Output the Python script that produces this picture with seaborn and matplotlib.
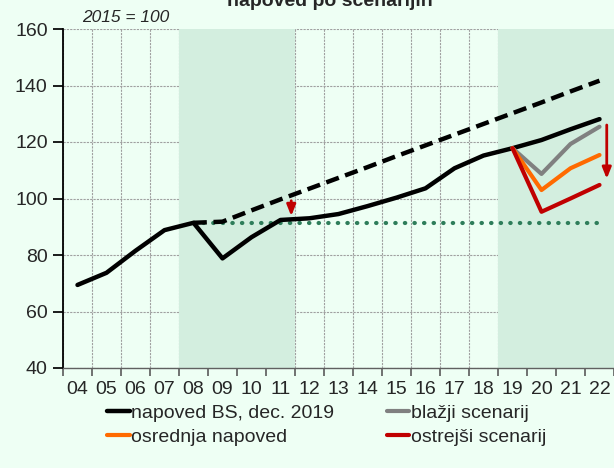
import matplotlib
matplotlib.use('Agg')
import matplotlib.pyplot as plt
import numpy as np
import pandas as pd
import seaborn as sns

# data
years = ['04', '05', '06', '07', '08', '09', '10', '11', '12', '13',
         '14', '15', '16', '17', '18', '19', '20', '21', '22']
napoved_bs = [69.4, 73.7, 81.5, 88.8, 91.4, 78.8, 86.3, 92.4, 93.0, 94.5,
              97.3, 100.3, 103.6, 110.7, 115.2, 117.8, 120.7, 124.5, 128.1]
trend_years = years[4:]
trend = [91.4, 91.8, 95.8, 99.7, 103.5, 107.3, 111.1, 115.0, 118.8, 122.6,
         126.4, 130.2, 134.0, 137.9, 141.7]
level_2008 = 91.4
scen_years = years[15:]
blazji = [117.8, 108.7, 119.3, 125.4]
osrednja = [117.8, 103.0, 110.7, 115.4]
ostrejsi = [117.8, 95.3, 100.0, 104.8]

bg = '#eefff4'
shade = '#d3eedf'

sns.set_theme(style='white')
plt.rcParams['font.family'] = ['Liberation Sans', 'DejaVu Sans']

pos = {y: i for i, y in enumerate(years)}
df_bs = pd.DataFrame({'x': [pos[y] for y in years], 'v': napoved_bs})
df_tr = pd.DataFrame({'x': [pos[y] for y in trend_years], 'v': trend})
df_lv = pd.DataFrame({'x': [pos[y] for y in trend_years], 'v': [level_2008] * len(trend_years)})
df_sc = pd.DataFrame({
    'x': [pos[y] for y in scen_years] * 3,
    'v': blazji + osrednja + ostrejsi,
    'scen': ['blažji scenarij'] * 4 + ['osrednja napoved'] * 4 + ['ostrejši scenarij'] * 4,
})

fig = plt.figure(figsize=(6.14, 4.68), dpi=100, facecolor=bg)
ax = fig.add_axes([63 / 614, 1 - 368 / 468, 1 - 63 / 614, (368 - 29) / 468])
ax.set_facecolor(bg)

# shaded periods (08-11 and 19-22)
ax.axvspan(3.5, 7.5, color=shade, lw=0, zorder=1)
ax.axvspan(14.5, 18.5, color=shade, lw=0, zorder=1)

sns.lineplot(data=df_lv, x='x', y='v', ax=ax, color='#2e7d5a', lw=3,
             linestyle=(0, (0.1, 2.2)), dash_capstyle='round', zorder=3)
ax.plot(df_tr['x'], df_tr['v'], color='black', lw=3.2, dashes=(3, 1.5), zorder=4)
sns.lineplot(data=df_bs, x='x', y='v', ax=ax, color='black', lw=3.2, zorder=5,
             label='napoved BS, dec. 2019')
sns.lineplot(data=df_sc, x='x', y='v', hue='scen', ax=ax, lw=3, zorder=6,
             palette=['#808080', '#ff6a00', '#c00000'])

# arrows
arr = dict(arrowstyle='-|>,head_width=0.22,head_length=0.55', color='#c00000', lw=2)
ax.annotate('', xy=(7.37, 92.8), xytext=(7.37, 100.2), arrowprops=arr, zorder=7)
ax.annotate('', xy=(18.25, 106), xytext=(18.25, 127), arrowprops=arr, zorder=7)

ax.set_xlim(-0.5, 18.5)
ax.set_ylim(40, 160)
ax.set_yticks(np.arange(40, 161, 20))
ax.set_xticks(np.arange(-0.5, 19), labels=[''] * 20)
ax.set_xticks(np.arange(19), labels=years, minor=True)
ax.tick_params(axis='x', which='major', length=6, direction='out', color='#606060',
               bottom=True)
ax.tick_params(axis='x', which='minor', length=0, pad=9, labelsize=14, bottom=True)
ax.tick_params(axis='y', length=7, direction='out', color='black', pad=4,
               labelsize=14, left=True)
ax.grid(True, which='major', color='#a0a0a0', lw=0.8, linestyle=(0, (2, 1)))
ax.set_axisbelow(True)
ax.set_xlabel('')
ax.set_ylabel('')
for s in ['top', 'right']:
    ax.spines[s].set_visible(False)
ax.spines['left'].set_color('black')
ax.spines['left'].set_linewidth(1.3)
ax.spines['bottom'].set_color('#606060')
ax.spines['bottom'].set_linewidth(1.0)

handles, labels = ax.get_legend_handles_labels()
order = ['napoved BS, dec. 2019', 'osrednja napoved', 'blažji scenarij', 'ostrejši scenarij']
hmap = dict(zip(labels, handles))
ax.legend([hmap[k] for k in order], order, ncol=2, frameon=False, fontsize=14,
          loc='upper left', bbox_to_anchor=(0.066, -0.085), handlelength=1.15,
          handletextpad=0.1, columnspacing=2.7, labelspacing=0.3, borderaxespad=0)

fig.text(82 / 614, 1 - 22 / 468, '2015 = 100', fontsize=12.5, style='italic', ha='left')
fig.text(0.537, 1 - 6 / 468, 'napoved po scenarijih', fontsize=14, weight='bold',
         ha='center', va='baseline')

fig.savefig('out.png', dpi=100, facecolor=bg)
